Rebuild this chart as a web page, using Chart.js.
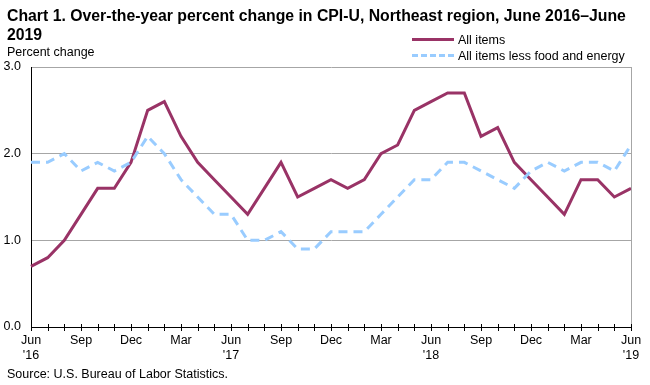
<!DOCTYPE html>
<html>
<head>
<meta charset="utf-8">
<script src="https://cdn.jsdelivr.net/npm/chart.js@4/dist/chart.umd.min.js"></script>
<style>
  body { margin: 0; background: #fff; font-family: Arial, "Liberation Sans", sans-serif; }
  #wrap { position: relative; width: 650px; height: 385px; overflow: hidden; }
  #chart { position: absolute; left: 0; top: 0; }
  .txt { position: absolute; color: #000; white-space: nowrap; }
  #title { left: 7px; top: 6px; font-size: 15.8px; font-weight: bold; line-height: 19px; }
  #ylab { left: 7px; top: 45px; font-size: 12.5px; }
  #source { left: 7px; top: 367px; font-size: 12.5px; }
  .leg { position: absolute; left: 412px; font-size: 12.5px; height: 14px; line-height: 14px; }
  .leg span.sw { display: inline-block; width: 42px; vertical-align: middle; margin-right: 4px; margin-top: -2px; }
</style>
</head>
<body>
<div id="wrap">
  <canvas id="chart" width="650" height="385"></canvas>
  <div id="title" class="txt">Chart 1. Over-the-year percent change in CPI-U, Northeast region, June 2016–June<br>2019</div>
  <div id="ylab" class="txt">Percent change</div>
  <div class="leg" style="top: 33px;"><span class="sw" style="border-top: 3px solid #993366;"></span>All items</div>
  <div class="leg" style="top: 49px;"><span class="sw" style="border-top: 3px dashed #99ccff;"></span>All items less food and energy</div>
  <div id="source" class="txt">Source: U.S. Bureau of Labor Statistics.</div>
</div>
<script>
// monthly, June 2016 - June 2019
const months = [
  "Jun", "Jul", "Aug", "Sep", "Oct", "Nov", "Dec",
  "Jan", "Feb", "Mar", "Apr", "May", "Jun", "Jul", "Aug", "Sep", "Oct", "Nov", "Dec",
  "Jan", "Feb", "Mar", "Apr", "May", "Jun", "Jul", "Aug", "Sep", "Oct", "Nov", "Dec",
  "Jan", "Feb", "Mar", "Apr", "May", "Jun",
];
const years = [
  "'16", "'16", "'16", "'16", "'16", "'16", "'16",
  "'17", "'17", "'17", "'17", "'17", "'17", "'17", "'17", "'17", "'17", "'17", "'17",
  "'18", "'18", "'18", "'18", "'18", "'18", "'18", "'18", "'18", "'18", "'18", "'18",
  "'19", "'19", "'19", "'19", "'19", "'19",
];

const allItems = [
  0.7, 0.8, 1.0, 1.3, 1.6, 1.6, 1.9,
  2.5, 2.6, 2.2, 1.9, 1.7, 1.5, 1.3, 1.6, 1.9, 1.5, 1.6, 1.7,
  1.6, 1.7, 2.0, 2.1, 2.5, 2.6, 2.7, 2.7, 2.2, 2.3, 1.9, 1.7,
  1.5, 1.3, 1.7, 1.7, 1.5, 1.6,
];
const lessFoodEnergy = [
  1.9, 1.9, 2.0, 1.8, 1.9, 1.8, 1.9,
  2.2, 2.0, 1.7, 1.5, 1.3, 1.3, 1.0, 1.0, 1.1, 0.9, 0.9, 1.1,
  1.1, 1.1, 1.3, 1.5, 1.7, 1.7, 1.9, 1.9, 1.8, 1.7, 1.6, 1.8,
  1.9, 1.8, 1.9, 1.9, 1.8, 2.1,
];

const yTicks = [0, 1, 2, 3];

// frame on the right + tick marks crossing the x axis
const framePlugin = {
  id: "frame",
  afterDraw(chart) {
    const { ctx, chartArea: a } = chart;
    const xs = chart.scales.x;
    ctx.save();
    ctx.strokeStyle = "#a6a6a6";
    ctx.lineWidth = 1;
    ctx.beginPath();
    ctx.moveTo(a.right + 0.5, a.top);
    ctx.lineTo(a.right + 0.5, a.bottom);
    ctx.stroke();
    ctx.strokeStyle = "#000";
    ctx.beginPath();
    xs.ticks.forEach((t, i) => {
      const px = Math.round(xs.getPixelForTick(i)) + 0.5;
      ctx.moveTo(px, a.bottom - 3);
      ctx.lineTo(px, a.bottom + 4);
    });
    ctx.stroke();
    ctx.restore();
  },
};

const tickFont = { family: "Arial, 'Liberation Sans', sans-serif", size: 12.5, lineHeight: 1.2 };

new Chart(document.getElementById("chart"), {
  type: "line",
  data: {
    labels: months.map((m, i) => m + " " + years[i]),
    datasets: [
      {
        label: "All items less food and energy",
        data: lessFoodEnergy,
        borderColor: "#99ccff",
        borderWidth: 3,
        borderDash: [9, 6],
        pointRadius: 0,
        tension: 0,
        fill: false,
      },
      {
        label: "All items",
        data: allItems,
        borderColor: "#993366",
        borderWidth: 3,
        pointRadius: 0,
        tension: 0,
        fill: false,
      },
    ],
  },
  options: {
    responsive: false,
    animation: false,
    layout: { padding: { left: 0, right: 19, top: 67, bottom: 0 } },
    plugins: { legend: { display: false }, tooltip: { enabled: false } },
    scales: {
      x: {
        grid: { display: false, drawTicks: false },
        border: { display: true, color: "#000", width: 1 },
        ticks: {
          autoSkip: false,
          maxRotation: 0,
          padding: 6,
          color: "#000",
          font: tickFont,
          callback: (v, i) => {
            if (i % 3 !== 0) return "";
            return months[i] === "Jun" ? [months[i], years[i]] : months[i];
          },
        },
        afterFit: (s) => { s.height = 58; },
      },
      y: {
        min: yTicks[0],
        max: yTicks[yTicks.length - 1],
        afterBuildTicks: (s) => { s.ticks = yTicks.map((v) => ({ value: v })); },
        grid: { color: "#a6a6a6", lineWidth: 1, drawTicks: false },
        border: { display: true, color: "#000", width: 1 },
        ticks: {
          padding: 10,
          color: "#000",
          font: tickFont,
          callback: (v) => Number(v).toFixed(1),
        },
        afterFit: (s) => { s.width = 31; },
      },
    },
  },
  plugins: [framePlugin],
});
</script>
</body>
</html>
